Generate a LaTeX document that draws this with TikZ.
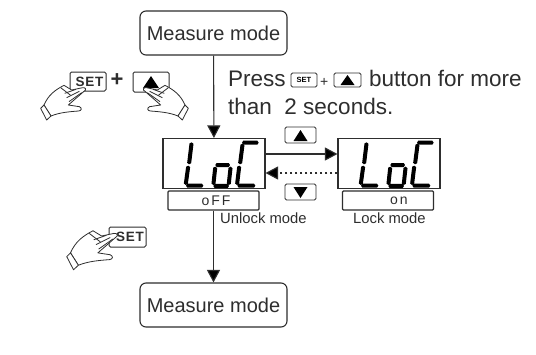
\documentclass[tikz,border=0pt]{standalone}
\usepackage{fontspec}
\setmainfont{Liberation Sans}
\usetikzlibrary{arrows.meta,calc}
\definecolor{ink}{gray}{0.18}
\newfontfamily\spaced[LetterSpace=14]{Liberation Sans}
\newfontfamily\keyfont[LetterSpace=5]{Liberation Sans}
\tikzset{
  box/.style={draw=ink,line width=1.1pt,inner sep=0pt,fill=white},
  modebox/.style={box,rounded corners=6pt,minimum width=147pt,minimum height=44pt,font=\fontsize{20}{22}\selectfont,text=ink},
  display/.style={box,minimum width=102pt,minimum height=50pt},
  subbox/.style={box,rounded corners=1pt,minimum width=91pt,minimum height=19pt,font=\spaced\fontsize{14}{15}\selectfont,text=ink},
  keybox/.style={box,line width=0.9pt,rounded corners=1.5pt},
  flow/.style={draw=ink,line width=1.1pt,-{Triangle[length=12.5pt,width=13pt,fill=black]}},
  dotflow/.style={flow,dash pattern=on 2pt off 3pt},
  txt/.style={inner sep=0pt,anchor=base west,text=ink,font=\fontsize{22.5}{24}\selectfont},
  small/.style={inner sep=0pt,anchor=base west,text=ink,font=\fontsize{14.8}{16}\selectfont},
  handline/.style={draw=ink,line width=0.8pt,fill=white,line join=round}
}
\newcommand{\handshape}{%
  \path[handline] (12,165) .. controls (25,135) and (45,120) .. (72,106)
    -- (95,120) -- (128,113) .. controls (138,112) and (140,120) .. (132,124)
    -- (85,165) -- (118,170) .. controls (127,174) and (125,182) .. (116,183)
    .. controls (90,185) and (60,187) .. (33,198) -- cycle;
  \path[handline] (2,175) -- (12,165) -- (33,198) -- (20,210) -- cycle;
  \draw[handline] (62,113) -- (92,136);
  \draw[handline] (74,130) -- (108,118);
  \draw[handline] (80,143) -- (118,124);
  \draw[handline] (87,155) -- (125,128);
}
\newcommand{\lcdglyphs}{%
  \foreach \a/\b/\c/\d in {95/22/87/88,85/92/77/150,78/152/130/152,
      166/90/210/90,166/95/160/150,212/95/206/150,160/153/207/153,
      246/23/296/23,248/26/240/88,238/92/231/150,232/152/286/152}
    {\coordinate (sa) at (\a,\b); \coordinate (sb) at (\c,\d);
     \fill[black] (sa)
       -- ($(sa)!1.3pt!(sb)!2pt!90:(sb)$) -- ($(sb)!1.3pt!(sa)!2pt!-90:(sa)$)
       -- (sb)
       -- ($(sb)!1.3pt!(sa)!2pt!90:(sa)$) -- ($(sa)!1.3pt!(sb)!2pt!-90:(sb)$)
       -- cycle;}
}
\begin{document}
\begin{tikzpicture}[x=1pt,y=-1pt]
\useasboundingbox (0,0) rectangle (536,354);
\fill[white] (0,0) rectangle (536,354);
% boxes
\node[modebox] (m1) at (213.5,33) {Measure mode};
\node[modebox] (m2) at (213.5,305) {Measure mode};
\node[display] (d1) at (214,163.5) {};
\node[display] (d2) at (389,163.5) {};
\node[subbox] (s1) at (213.5,200.5) {\hspace*{5pt}oFF};
\node[subbox] (s2) at (388,200.5) {\hspace*{22pt}on};
\begin{scope}[shift={(160,135)},x=0.3333pt,y=-0.3333pt]\lcdglyphs\end{scope}
\begin{scope}[shift={(335,135)},x=0.3333pt,y=-0.3333pt]\lcdglyphs\end{scope}
% connectors
\draw[flow] (m1) -- (d1);
\draw[flow] (s1) -- (m2);
\coordinate (r1) at ($(d1.east)+(0,-9.5)$);
\coordinate (r2) at ($(d2.west)+(0,-9.5)$);
\coordinate (l1) at ($(d2.west)+(0,9.5)$);
\coordinate (l2) at ($(d1.east)+(0,9.5)$);
\draw[flow] (r1) -- (r2);
\draw[dotflow] (l1) -- (l2);
% arrow keys
\node[keybox,minimum width=31pt,minimum height=16pt] (ku) at (300.5,135) {};
\fill[black] (293.5,141) -- (307.5,141) -- (300.5,130) -- cycle;
\node[keybox,minimum width=31pt,minimum height=16pt] (kd) at (300.5,192) {};
\fill[black] (293.5,187) -- (307.5,187) -- (300.5,198) -- cycle;
% instruction text
\node[txt] (p1) at (228,86) {Press};
\node[keybox,minimum width=26pt,minimum height=14pt,font=\bfseries\fontsize{7.5}{8}\selectfont] (ks) at (304,80) {SET};
\node[small,font=\fontsize{14}{14}\selectfont] (pl) at (320,86) {+};
\node[keybox,minimum width=27pt,minimum height=14pt] (ka) at (347.5,80) {};
\fill[black] (340.5,85) -- (354.5,85) -- (347.5,75) -- cycle;
\node[txt] (p2) at (369,86) {button for more};
\node[txt] (p3) at (228,114) {than \ 2 seconds.};
% labels
\node[small] (u) at (220,223) {Unlock mode};
\node[small] (k) at (353,223) {Lock mode};
% hands row
\node[keybox,line width=1pt,minimum width=36pt,minimum height=19pt,font=\keyfont\bfseries\fontsize{13.5}{14}\selectfont,text=ink] (k1) at (88,81.5) {\hspace*{3pt}SET};
\node[inner sep=0pt,text=ink,font=\bfseries\fontsize{22}{22}\selectfont] (pp) at (117,80) {+};
\node[keybox,line width=1pt,minimum width=36pt,minimum height=20pt] (k2) at (151,82) {};
\fill[black] (143,88) -- (159,88) -- (151,76) -- cycle;
\begin{scope}[shift={(40,50)},x=0.3333pt,y=-0.3333pt]\handshape\end{scope}
\begin{scope}[shift={(189,50)},x=-0.3333pt,y=-0.3333pt]\handshape\end{scope}
% lower hand
\node[keybox,line width=1pt,minimum width=37pt,minimum height=20pt,font=\keyfont\bfseries\fontsize{13.5}{14}\selectfont,text=ink] (k3) at (127.5,237) {\hspace*{5pt}SET};
\begin{scope}[shift={(66,191)},x=0.375pt,y=-0.375pt]\handshape\end{scope}
\end{tikzpicture}
\end{document}
